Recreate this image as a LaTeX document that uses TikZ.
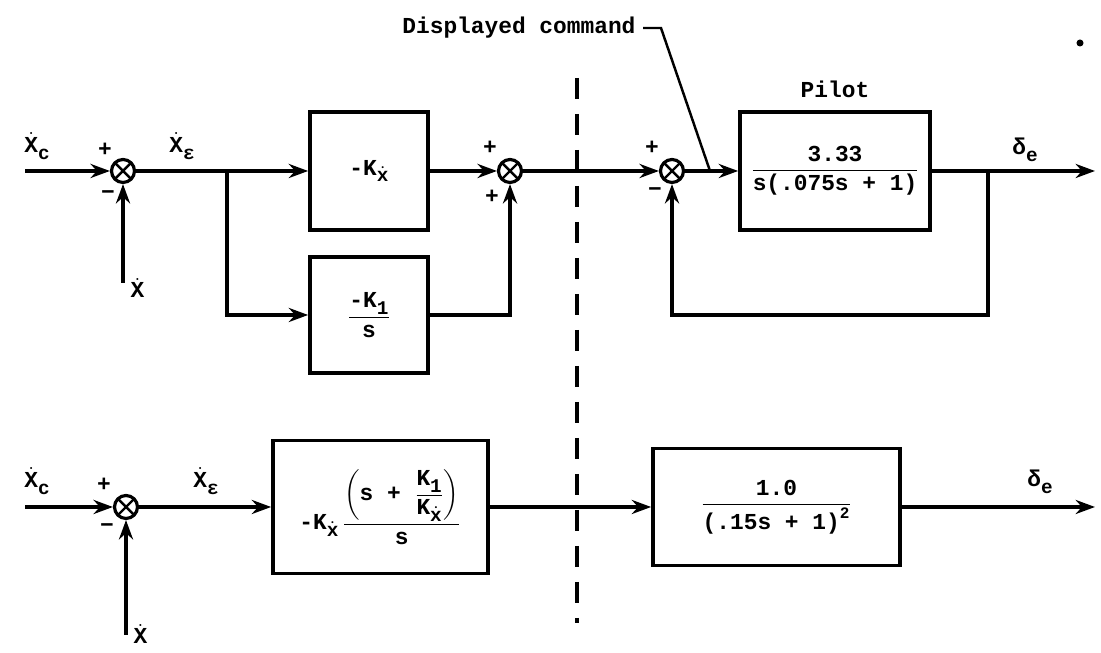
\documentclass[tikz,border=0pt]{standalone}
\usepackage{amsmath}
\usepackage{fontspec}
\setmainfont{Liberation Mono}
\usepackage{tikz}
\usetikzlibrary{calc, arrows.meta}

% lowered subscripts, nearly full size as on the typed original
\newcommand{\lowsub}[1]{\raisebox{-0.55ex}{\fontsize{11}{13}\selectfont #1}}
\newcommand{\dotX}{$\dot{\text{X}}$}
\newcommand{\dotx}{$\dot{\text{x}}$}

\tikzset{
  blk/.style={draw, line width=2.1pt, inner sep=2pt},
  sumj/.style={circle, draw, line width=1.8pt, minimum size=0.46cm, inner sep=0pt,
    path picture={\draw[line width=1.4pt] (path picture bounding box.north west) -- (path picture bounding box.south east)
      (path picture bounding box.south west) -- (path picture bounding box.north east);}},
  sig/.style={-{Stealth[length=11pt, width=8pt]}},
  lead/.style={line width=1.4pt},
  cut/.style={line width=1.9pt, dash pattern=on 0.42cm off 0.3cm},
}

\begin{document}
\begin{tikzpicture}[line width=1.9pt, font=\bfseries\fontsize{13}{15}\selectfont]

    \useasboundingbox (0,0) rectangle (22.02,13.06);

    % Define parameters
    \def\ytop{9.64}  % level of the upper loop
    \def\ybot{2.92}  % level of the lower loop

    % ==========================================
    % UPPER DIAGRAM
    % ==========================================
    \coordinate (in1) at (0.5,\ytop);
    \node[sumj] (s1) at (2.46,\ytop) {};
    \coordinate (fb1) at (2.46,7.4);
    \coordinate (br1) at (4.54,\ytop);
    \node[blk, minimum width=2.36cm, minimum height=2.36cm] (kx) at (7.38,\ytop) {-K\lowsub{\dotx}};
    \node[blk, minimum width=2.36cm, minimum height=2.32cm] (ki) at (7.38,6.76) {$\dfrac{\text{-K\lowsub{1}}}{\text{s}}$};
    \node[sumj] (s2) at (10.2,\ytop) {};
    \node[sumj] (s3) at (13.44,\ytop) {};
    \coordinate (cmd) at (14.2,\ytop);
    \node[blk, minimum width=3.8cm, minimum height=2.36cm] (pilot) at (16.7,\ytop) {$\dfrac{\text{3.33}}{\text{s(.075s + 1)}}$};
    \coordinate (br2) at (19.76,\ytop);
    \coordinate (br2b) at (19.76,6.76);
    \coordinate (out1) at (21.9,\ytop);

    % Signal labels
    \node (xc1) at (0.74,10.14) {\dotX\lowsub{c}};
    \node (xe1) at (3.64,10.14) {\dotX\lowsub{ε}};
    \node[right] (xd1) at ($(fb1)+(0,-0.1)$) {\dotX};
    \node (de1) at (20.5,10.06) {δ\lowsub{e}};
    \node[above=0.1cm] (pilotlbl) at (pilot.north) {Pilot};

    % Signs at the junctions
    \node (p1) at ($(s1)+(-0.36,0.42)$) {+};
    \node (m1) at ($(s1)+(-0.3,-0.48)$) {−};
    \node (p2a) at ($(s2)+(-0.4,0.46)$) {+};
    \node (p2b) at ($(s2)+(-0.36,-0.52)$) {+};
    \node (p3) at ($(s3)+(-0.4,0.46)$) {+};
    \node (m3) at ($(s3)+(-0.34,-0.42)$) {−};

    % Connectors
    \draw[sig] (in1) -- (s1);
    \draw[sig] (fb1) -- (s1);
    \draw (s1) -- (br1);
    \draw[sig] (br1) -- (kx);
    \draw[sig] (br1) |- (ki);
    \draw[sig] (kx) -- (s2);
    \draw[sig] (ki) -| (s2);
    \draw[sig] (s2) -- (s3);
    \draw (s3) -- (cmd);
    \draw[sig] (cmd) -- (pilot);
    \draw[sig] (pilot) -- (out1);
    \draw[sig] (br2) -- (br2b) -| (s3);

    % Pointer to the displayed command
    \node[anchor=east] (dcmd) at (12.86,12.5) {Displayed command};
    \draw[lead] (dcmd.east) -- ++(0.36,0) -- (cmd);

    % ==========================================
    % DIVIDING LINE
    % ==========================================
    \coordinate (cuttop) at (11.54,11.5);
    \coordinate (cutbot) at (11.54,0.6);
    \draw[cut] (cuttop) -- (cutbot);

    % ==========================================
    % LOWER DIAGRAM
    % ==========================================
    \coordinate (in2) at (0.5,\ybot);
    \node[sumj] (s4) at (2.52,\ybot) {};
    \coordinate (fb4) at (2.52,0.36);
    \node[blk, minimum width=4.3cm, minimum height=2.66cm] (kpi) at (7.61,\ybot)
        {$\text{-K\lowsub{\dotx}}\,\dfrac{\left(\text{s + }\dfrac{\text{K\lowsub{1}}}{\text{K\lowsub{\dotx}}}\right)}{\text{s}}$};
    \node[blk, minimum width=4.94cm, minimum height=2.34cm] (act) at (15.53,\ybot)
        {$\dfrac{\text{1.0}}{\text{(.15s + 1)}^{\text{2}}}$};
    \coordinate (out2) at (21.9,\ybot);

    % Signal labels
    \node (xc2) at (0.74,3.44) {\dotX\lowsub{c}};
    \node (xe2) at (4.12,3.44) {\dotX\lowsub{ε}};
    \node[right] (xd4) at ($(fb4)+(0,0.02)$) {\dotX};
    \node (de2) at (20.8,3.42) {δ\lowsub{e}};
    \node (p4) at ($(s4)+(-0.44,0.44)$) {+};
    \node (m4) at ($(s4)+(-0.38,-0.42)$) {−};

    % Connectors
    \draw[sig] (in2) -- (s4);
    \draw[sig] (fb4) -- (s4);
    \draw[sig] (s4) -- (kpi);
    \draw[sig] (kpi) -- (act);
    \draw[sig] (act) -- (out2);

    % stray mark at the top right
    \fill (21.6,12.2) circle (2pt);

\end{tikzpicture}
\end{document}
